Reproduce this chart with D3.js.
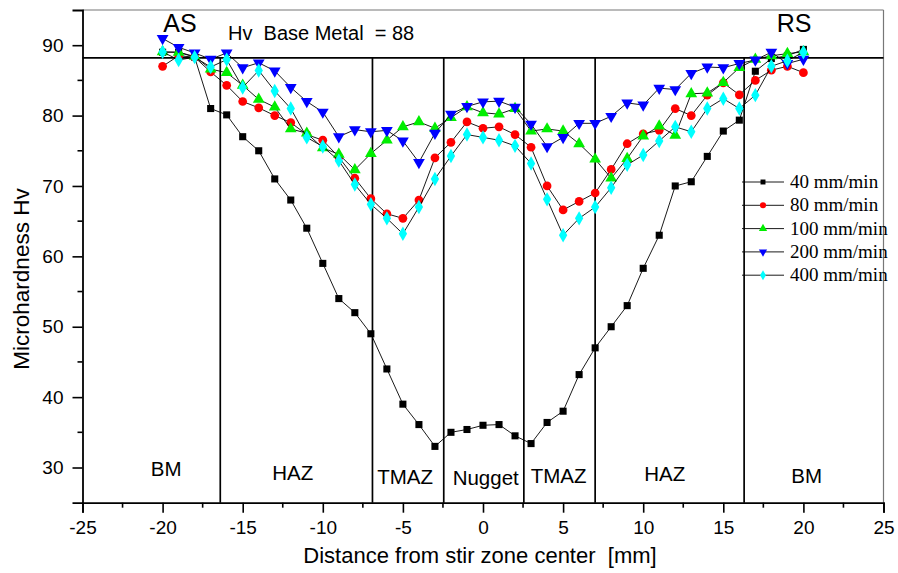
<!DOCTYPE html>
<html><head><meta charset="utf-8">
<script src="https://cdn.jsdelivr.net/npm/d3@7"></script>
<style>body{margin:0;background:#fff}svg{display:block}text{white-space:pre}</style>
</head><body><svg id="c" width="898" height="573"></svg>
<script>
const xs = d3.range(-20, 21);
const s40  = [89.0,89.0,88.3,81.0,80.1,77.0,75.0,71.0,68.0,64.0,59.0,54.0,52.0,49.0,44.0,39.0,36.1,33.0,35.0,35.4,36.0,36.1,34.5,33.4,36.4,38.0,43.2,47.0,50.0,53.0,58.3,63.0,70.0,70.6,74.2,77.8,79.35,86.3,88.1,88.5,89.4];
const s80  = [87.0,88.5,88.3,86.2,84.3,82.0,81.1,80.0,79.0,77.3,76.5,74.1,71.1,68.2,66.05,65.4,68.0,74.0,76.2,79.1,78.2,78.4,77.3,75.5,70.0,66.6,67.8,69.0,72.35,76.0,77.4,77.9,81.0,80.0,82.9,84.65,82.95,85.0,86.45,87.0,86.1];
const s100 = [89.05,89.0,88.4,86.6,86.1,84.3,82.3,81.2,78.1,77.5,75.4,74.5,72.3,74.6,76.5,78.4,79.1,78.2,79.7,81.25,80.4,80.2,81.0,77.8,78.1,77.8,76.0,73.8,71.1,73.9,77.1,78.5,77.2,83.1,83.2,84.7,86.8,88.0,88.5,88.8,89.05];
const s200 = [90.95,89.7,88.9,88.0,88.9,86.8,87.5,86.35,84.0,82.0,80.5,77.0,78.0,77.7,77.9,76.4,73.35,77.5,80.2,81.3,81.95,82.05,81.2,78.8,75.6,76.9,78.9,78.9,79.9,81.8,81.5,83.9,83.7,86.0,86.9,86.8,87.4,87.9,89.0,87.4,88.0];
const s400 = [89.05,87.9,88.3,86.9,87.95,84.0,86.4,83.5,81.0,76.9,75.6,73.6,70.2,67.4,65.4,63.2,67.0,71.0,74.25,77.3,76.9,76.5,75.7,73.2,68.1,63.0,65.4,67.0,69.75,73.0,74.4,76.4,78.4,77.7,81.0,82.4,81.0,82.9,87.0,87.8,89.0];
const seriesNames = ["40 mm/min","80 mm/min","100 mm/min","200 mm/min","400 mm/min"];
const seriesValues = [s40, s80, s100, s200, s400];
const seriesColors = ["#000000","#ff0000","#00ee00","#0000ff","#00ffff"];
const seriesSymbols = ["square","circle","triangle","triangleDown","diamond"];
const xTicks = [-25,-20,-15,-10,-5,0,5,10,15,20,25];
const yTicks = [30,40,50,60,70,80,90];
const baseMetal = 88.2;
const zoneBounds = [-16.4,-6.9,-2.45,2.55,7.0,16.3];
const zoneLabels = [
  {t:"BM", x:-19.78, y:28.8},{t:"HAZ", x:-11.88, y:28.2},{t:"TMAZ", x:-4.86, y:27.65},
  {t:"Nugget", x:0.17, y:27.5},{t:"TMAZ", x:4.72, y:27.75},{t:"HAZ", x:11.35, y:28.15},{t:"BM", x:20.2, y:27.75}
];

const svg = d3.select("#c");
const x = d3.scaleLinear().domain([-25,25]).range([82.5,883.5]);
const y = d3.scaleLinear().domain([25,95]).range([502.7,10]);
const font = "Arial, 'Liberation Sans', sans-serif";

// frame top/right
svg.append("line").attr("x1",x(-25)).attr("x2",x(25)).attr("y1",y(95)).attr("y2",y(95)).attr("stroke","#777").attr("stroke-width",1.2);
svg.append("line").attr("x1",x(25)).attr("x2",x(25)).attr("y1",y(95)).attr("y2",y(25)).attr("stroke","#777").attr("stroke-width",1.2);

// base metal line
svg.append("line").attr("x1",x(-25)).attr("x2",x(25)).attr("y1",y(baseMetal)).attr("y2",y(baseMetal)).attr("stroke","#000").attr("stroke-width",1.7);
// zone boundaries
zoneBounds.forEach(b=>{
  svg.append("line").attr("x1",x(b)).attr("x2",x(b)).attr("y1",y(baseMetal)).attr("y2",y(25)).attr("stroke","#000").attr("stroke-width",1.7);
});

// axes
const xAxis = d3.axisBottom(x).tickValues(xTicks).tickSize(10).tickPadding(8).tickFormat(d=>String(d));
const gx = svg.append("g").attr("transform",`translate(0,${y(25)})`).call(xAxis);
gx.selectAll("text").attr("font-family",font).attr("font-size",19).attr("fill","#000");
gx.append("g").selectAll("line").data(d3.range(-22.5,25,5)).join("line")
  .attr("x1",d=>x(d)).attr("x2",d=>x(d)).attr("y1",0).attr("y2",5).attr("stroke","#000").attr("stroke-width",1.6);
const yAxis = d3.axisLeft(y).tickValues(yTicks).tickSize(10).tickPadding(9).tickFormat(d=>String(d));
const gy = svg.append("g").attr("transform",`translate(${x(-25)},0)`).call(yAxis);
gy.selectAll("text").attr("font-family",font).attr("font-size",19).attr("fill","#000");
gy.append("g").selectAll("line").data(d3.range(35,95,10)).join("line")
  .attr("x1",0).attr("x2",-5).attr("y1",d=>y(d)).attr("y2",d=>y(d)).attr("stroke","#000").attr("stroke-width",1.6);
[gx,gy].forEach(g=>{g.select(".domain").attr("stroke-width",1.8); g.selectAll(".tick line").attr("stroke-width",1.6);});

// titles
svg.append("text").attr("x",480).attr("y",563).attr("text-anchor","middle").attr("font-family",font).attr("font-size",22).text("Distance from stir zone center  [mm]");
svg.append("text").attr("transform","translate(29,279) rotate(-90)").attr("text-anchor","middle").attr("font-family",font).attr("font-size",22.5).text("Microhardness Hv");

// annotations
svg.append("text").attr("x",180).attr("y",31.5).attr("text-anchor","middle").attr("font-family",font).attr("font-size",25).text("AS");
svg.append("text").attr("x",794).attr("y",31.5).attr("text-anchor","middle").attr("font-family",font).attr("font-size",25).text("RS");
svg.append("text").attr("x",228).attr("y",40).attr("font-family",font).attr("font-size",20).text("Hv  Base Metal  = 88");
zoneLabels.forEach(z=>{
  svg.append("text").attr("x",x(z.x)).attr("y",y(z.y)).attr("text-anchor","middle").attr("font-family",font).attr("font-size",20.5).text(z.t);
});

// symbols
function sym(kind){
  const map = {square:[d3.symbolSquare,50],circle:[d3.symbolCircle,60],triangle:[d3.symbolTriangle,60],triangleDown:[d3.symbolTriangle,60],diamond:[d3.symbolDiamond,60]};
  return d3.symbol().type(map[kind][0]).size(map[kind][1])();
}
const line = d3.line().x((d,i)=>x(xs[i])).y(d=>y(d));
seriesValues.forEach((vals,si)=>{
  const g = svg.append("g");
  g.append("path").attr("d",line(vals)).attr("fill","none").attr("stroke","#000").attr("stroke-width",0.9);
  g.selectAll("path.m").data(vals).join("path").attr("class","m")
    .attr("d",sym(seriesSymbols[si]))
    .attr("transform",(d,i)=>`translate(${x(xs[i])},${y(d)})${seriesSymbols[si]==="triangleDown"?" rotate(180)":""}`)
    .attr("fill",seriesColors[si]);
});

// legend
const lg = svg.append("g");
seriesNames.forEach((n,i)=>{
  const ly = 182 + i*23.3;
  lg.append("line").attr("x1",742).attr("x2",784).attr("y1",ly).attr("y2",ly).attr("stroke","#000").attr("stroke-width",0.9);
  lg.append("path").attr("d",sym(seriesSymbols[i])).attr("transform",`translate(763,${ly})${seriesSymbols[i]==="triangleDown"?" rotate(180)":""} scale(0.7)`).attr("fill",seriesColors[i]);
  lg.append("text").attr("x",790).attr("y",ly+6).attr("font-family","'Times New Roman','Liberation Serif',serif").attr("font-size",19).text(n);
});
</script></body></html>
